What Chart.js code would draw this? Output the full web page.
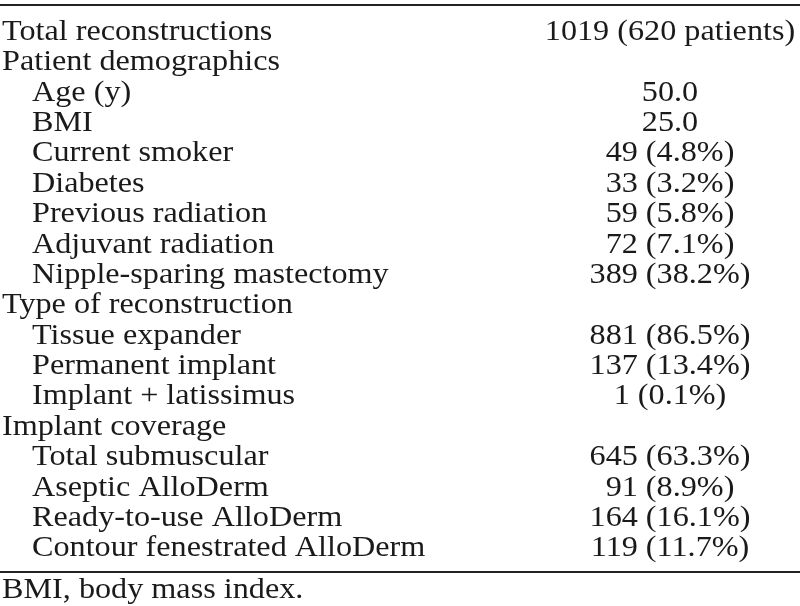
<!DOCTYPE html>
<html>
<head>
<meta charset="utf-8">
<script src="https://cdn.jsdelivr.net/npm/chart.js@4.4.1/dist/chart.umd.min.js"></script>
<style>
  html, body { margin: 0; padding: 0; background: #fff; }
  #wrap { width: 800px; height: 606px; }
</style>
</head>
<body>
<div id="wrap"><canvas id="tbl" width="800" height="606"></canvas></div>
<script>
const rowLabels = [
  'Total reconstructions',
  'Patient demographics',
  'Age (y)',
  'BMI',
  'Current smoker',
  'Diabetes',
  'Previous radiation',
  'Adjuvant radiation',
  'Nipple-sparing mastectomy',
  'Type of reconstruction',
  'Tissue expander',
  'Permanent implant',
  'Implant + latissimus',
  'Implant coverage',
  'Total submuscular',
  'Aseptic AlloDerm',
  'Ready-to-use AlloDerm',
  'Contour fenestrated AlloDerm'
];
// 0 = section heading, 1 = indented row
const rowLevels = [0, 0, 1, 1, 1, 1, 1, 1, 1, 0, 1, 1, 1, 0, 1, 1, 1, 1];
const rowValues = [
  '1019 (620 patients)',
  '',
  '50.0',
  '25.0',
  '49 (4.8%)',
  '33 (3.2%)',
  '59 (5.8%)',
  '72 (7.1%)',
  '389 (38.2%)',
  '',
  '881 (86.5%)',
  '137 (13.4%)',
  '1 (0.1%)',
  '',
  '645 (63.3%)',
  '91 (8.9%)',
  '164 (16.1%)',
  '119 (11.7%)'
];
const footnote = 'BMI, body mass index.';

const FONT = '29px "Liberation Serif", serif';
const STRETCH = 1.11; // reference face is wider than Times

function drawText(ctx, text, x, y, align) {
  const w = ctx.measureText(text).width * STRETCH;
  let left = x;
  if (align === 'center') left = x - w / 2;
  ctx.save();
  ctx.translate(left, y);
  ctx.scale(STRETCH, 1);
  ctx.textAlign = 'left';
  ctx.fillText(text, 0, 0);
  ctx.restore();
}

const tablePlugin = {
  id: 'tableText',
  afterDraw(chart) {
    const ctx = chart.ctx;
    const y = chart.scales.y;
    ctx.save();
    ctx.fillStyle = '#1a1a1a';
    ctx.font = FONT;
    ctx.textBaseline = 'middle';
    rowLabels.forEach((label, i) => {
      const py = y.getPixelForValue(i);
      drawText(ctx, label, rowLevels[i] ? 32 : 2, py, 'left');
      if (rowValues[i]) {
        drawText(ctx, rowValues[i], 670, py, 'center');
      }
    });
    // rules
    ctx.strokeStyle = '#222';
    ctx.lineWidth = 2;
    ctx.beginPath();
    ctx.moveTo(0, 5); ctx.lineTo(800, 5);
    ctx.moveTo(0, 572); ctx.lineTo(800, 572);
    ctx.stroke();
    drawText(ctx, footnote, 2, 590, 'left');
    ctx.restore();
  }
};

new Chart(document.getElementById('tbl'), {
  type: 'bar',
  data: {
    labels: rowLabels,
    datasets: [{
      label: 'rows',
      data: rowLabels.map(() => 0),
      backgroundColor: 'rgba(0,0,0,0)'
    }]
  },
  options: {
    indexAxis: 'y',
    responsive: false,
    animation: false,
    layout: { padding: { top: 17, bottom: 42, left: 0, right: 0 } },
    plugins: { legend: { display: false }, tooltip: { enabled: false } },
    scales: {
      x: { display: false, min: 0, max: 1 },
      y: { display: false }
    }
  },
  plugins: [tablePlugin]
});
</script>
</body>
</html>
